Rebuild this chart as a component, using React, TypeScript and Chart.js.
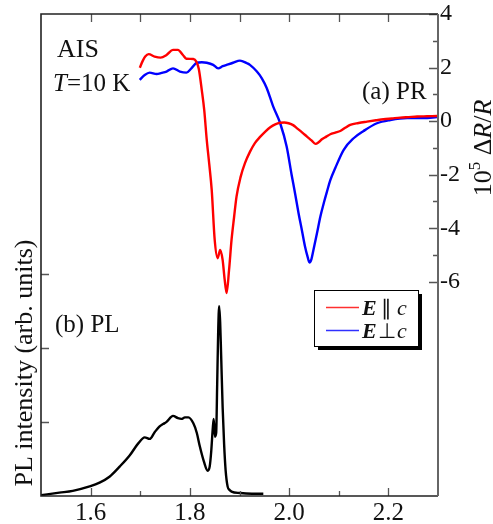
import { useEffect, useRef } from 'react';
import { Chart, registerables } from 'chart.js';

Chart.register(...registerables);

// PR spectrum, E parallel c (red), values in 10^5 ΔR/R
const prParE = [1.699, 1.705, 1.710, 1.717, 1.729, 1.741, 1.753, 1.766, 1.776, 1.786, 1.793, 1.807, 1.813, 1.818, 1.824, 1.829, 1.834, 1.839, 1.844, 1.850, 1.856, 1.861, 1.866, 1.870, 1.874, 1.879, 1.884, 1.889, 1.894, 1.902, 1.911, 1.921, 1.931, 1.941, 1.952, 1.962, 1.972, 1.982, 1.990, 1.999, 2.008, 2.016, 2.026, 2.036, 2.045, 2.053, 2.060, 2.066, 2.075, 2.083, 2.093, 2.103, 2.113, 2.123, 2.140, 2.157, 2.175, 2.190, 2.207, 2.224, 2.241, 2.258, 2.278, 2.298];
const prParV = [1.99, 2.25, 2.41, 2.50, 2.41, 2.37, 2.47, 2.66, 2.66, 2.47, 2.33, 2.32, 2.22, 1.95, 1.16, 0.40, -0.70, -1.60, -2.57, -4.43, -5.12, -4.81, -5.18, -5.90, -6.42, -5.55, -4.43, -3.60, -2.82, -2.10, -1.57, -1.15, -0.82, -0.60, -0.39, -0.23, -0.12, -0.06, -0.05, -0.08, -0.15, -0.27, -0.42, -0.58, -0.72, -0.85, -0.78, -0.68, -0.58, -0.49, -0.43, -0.37, -0.25, -0.14, -0.07, -0.02, 0.03, 0.07, 0.10, 0.13, 0.15, 0.17, 0.18, 0.19];

// PR spectrum, E perpendicular c (blue)
const prPerpE = [1.699, 1.709, 1.719, 1.733, 1.743, 1.753, 1.766, 1.780, 1.793, 1.803, 1.814, 1.824, 1.834, 1.847, 1.857, 1.866, 1.874, 1.887, 1.901, 1.915, 1.921, 1.935, 1.945, 1.955, 1.968, 1.982, 1.995, 2.005, 2.012, 2.019, 2.026, 2.032, 2.037, 2.041, 2.045, 2.049, 2.056, 2.063, 2.070, 2.076, 2.083, 2.093, 2.110, 2.130, 2.150, 2.177, 2.204, 2.238, 2.271, 2.298];
const prPerpV = [1.54, 1.72, 1.81, 1.76, 1.80, 1.85, 1.97, 1.85, 1.81, 1.97, 2.18, 2.20, 2.18, 2.10, 1.97, 2.05, 2.10, 2.18, 2.26, 2.16, 2.10, 1.85, 1.60, 1.23, 0.54, -0.08, -0.95, -2.00, -2.70, -3.44, -4.10, -4.68, -5.05, -5.28, -5.15, -4.81, -4.20, -3.56, -3.05, -2.65, -2.20, -1.75, -1.07, -0.64, -0.37, -0.08, 0.04, 0.11, 0.11, 0.15];

// PL spectrum (black), arbitrary units
const plE = [1.500, 1.537, 1.564, 1.598, 1.618, 1.638, 1.659, 1.679, 1.696, 1.709, 1.719, 1.729, 1.739, 1.746, 1.753, 1.766, 1.776, 1.783, 1.790, 1.797, 1.807, 1.814, 1.820, 1.828, 1.836, 1.840, 1.843, 1.846, 1.848, 1.8505, 1.853, 1.855, 1.857, 1.859, 1.861, 1.863, 1.866, 1.869, 1.872, 1.876, 1.880, 1.884, 1.901, 1.925, 1.948];
const plI = [0.01, 0.045, 0.07, 0.13, 0.18, 0.26, 0.40, 0.55, 0.71, 0.79, 0.77, 0.86, 0.94, 0.97, 1.00, 1.08, 1.05, 1.04, 1.06, 1.06, 0.98, 0.85, 0.67, 0.47, 0.34, 0.40, 0.60, 0.90, 1.04, 0.80, 0.85, 1.50, 2.20, 2.56, 2.35, 1.90, 1.20, 0.70, 0.35, 0.13, 0.08, 0.06, 0.04, 0.03, 0.03];

const xTicks = [1.6, 1.7, 1.8, 1.9, 2.0, 2.1, 2.2];
const prTicks = [-6, -5, -4, -3, -2, -1, 0, 1, 2, 3, 4];
const plTicks = [1, 2, 3];

const SERIF = '"Liberation Serif", serif';

type Run = [string, string, number?];

function runsWidth(ctx: CanvasRenderingContext2D, runs: Run[]) {
  let w = 0;
  for (const [t, f] of runs) {
    ctx.font = f;
    w += ctx.measureText(t).width;
  }
  return w;
}

function drawRuns(ctx: CanvasRenderingContext2D, runs: Run[], x: number, y: number) {
  let cx = x;
  for (const [t, f, dy] of runs) {
    ctx.font = f;
    ctx.fillText(t, cx, y + (dy || 0));
    cx += ctx.measureText(t).width;
  }
  return cx;
}

export default function App() {
  const ref = useRef<HTMLCanvasElement>(null);

  useEffect(() => {
    const canvas = ref.current!;
    const toXY = (xs: number[], ys: number[]) => xs.map((x, i) => ({ x, y: ys[i] }));

    const decor = {
      id: 'decor',
      afterDatasetsDraw(chart: any) {
        const { ctx, chartArea: a, scales } = chart;
        const sx = scales.x, sl = scales.y, sr = scales.y2;
        ctx.save();
        ctx.lineCap = 'butt';
        // ticks
        ctx.strokeStyle = '#555';
        ctx.lineWidth = 1.3;
        ctx.beginPath();
        for (const v of xTicks) {
          const px = Math.round(sx.getPixelForValue(v)) + 0.5;
          const major = Math.round(v * 10) % 2 === 0;
          ctx.moveTo(px, a.bottom);
          ctx.lineTo(px, a.bottom - (major ? 8 : 5));
          ctx.moveTo(px, a.top);
          ctx.lineTo(px, a.top + 8);
        }
        for (const v of plTicks) {
          const py = Math.round(sl.getPixelForValue(v)) + 0.5;
          ctx.moveTo(a.left, py);
          ctx.lineTo(a.left + 8, py);
        }
        for (const v of prTicks) {
          const py = Math.round(sr.getPixelForValue(v)) + 0.5;
          const major = v % 2 === 0;
          ctx.moveTo(a.right, py);
          ctx.lineTo(a.right - (major ? 9 : 5), py);
        }
        ctx.stroke();
        // frame
        ctx.strokeStyle = '#222';
        ctx.lineWidth = 1.6;
        ctx.beginPath();
        ctx.moveTo(a.right, a.top);
        ctx.lineTo(a.left, a.top);
        ctx.lineTo(a.left, a.bottom);
        ctx.lineTo(a.right, a.bottom);
        ctx.stroke();
        ctx.strokeStyle = '#666';
        ctx.lineWidth = 2;
        ctx.beginPath();
        ctx.moveTo(a.right, a.top);
        ctx.lineTo(a.right, a.bottom);
        ctx.stroke();

        // texts
        ctx.fillStyle = '#111';
        ctx.textBaseline = 'alphabetic';
        ctx.textAlign = 'left';
        drawRuns(ctx, [['AIS', `26px ${SERIF}`]], 57, 57);
        drawRuns(ctx, [['T', `italic 25px ${SERIF}`], ['=10 K', `25px ${SERIF}`]], 53, 91);
        drawRuns(ctx, [['(a) PR', `25px ${SERIF}`]], 362, 99);
        drawRuns(ctx, [['(b) PL', `25px ${SERIF}`]], 55, 332);

        // left axis title
        ctx.save();
        ctx.translate(32, 363);
        ctx.rotate(-Math.PI / 2);
        ctx.textAlign = 'center';
        ctx.font = `26px ${SERIF}`;
        ctx.fillText('PL intensity (arb. units)', 0, 0);
        ctx.restore();

        // right axis title
        ctx.save();
        ctx.translate(491, 148);
        ctx.rotate(-Math.PI / 2);
        const rt: Run[] = [
          ['10', `26px ${SERIF}`],
          ['5', `17px ${SERIF}`, -11],
          [' \u0394', `26px ${SERIF}`],
          ['R', `italic 26px ${SERIF}`],
          ['/', `26px ${SERIF}`],
          ['R', `italic 26px ${SERIF}`],
        ];
        const w = runsWidth(ctx, rt);
        drawRuns(ctx, rt, -w / 2, 0);
        ctx.restore();

        // legend
        const lx = 314, ly = 290, lw = 104, lh = 56;
        ctx.fillStyle = '#000';
        ctx.fillRect(lx + 4, ly + 4, lw, lh);
        ctx.fillStyle = '#fff';
        ctx.fillRect(lx, ly, lw, lh);
        ctx.strokeStyle = '#000';
        ctx.lineWidth = 1;
        ctx.strokeRect(lx + 0.5, ly + 0.5, lw, lh);
        const rows: [string, string][] = [['#ff3030', '\u2225'], ['#3030ff', '\u22A5']];
        rows.forEach(([col, sym], i) => {
          const y = 307 + i * 23;
          ctx.strokeStyle = col;
          ctx.lineWidth = 1.5;
          ctx.beginPath();
          ctx.moveTo(326, y + 0.5);
          ctx.lineTo(359, y + 0.5);
          ctx.stroke();
          ctx.fillStyle = '#111';
          ctx.textBaseline = 'middle';
          ctx.textAlign = 'left';
          ctx.font = `italic bold 22px ${SERIF}`;
          ctx.fillText('E', 362, y + 2);
          ctx.textAlign = 'center';
          ctx.font = `21px ${SERIF}`;
          ctx.fillText(sym, 386.5, y + 2);
          ctx.textAlign = 'left';
          ctx.font = `italic 22px ${SERIF}`;
          ctx.fillText('c', 397, y + 2);
        });
        ctx.restore();
      },
    };

    const chart = new Chart(canvas, {
      type: 'scatter',
      data: {
        datasets: [
          {
            label: 'PL',
            data: toXY(plE, plI),
            yAxisID: 'y',
            borderColor: '#000',
            borderWidth: 2.4,
            showLine: true,
            pointRadius: 0,
            cubicInterpolationMode: 'monotone',
          },
          {
            label: 'E ∥ c',
            data: toXY(prParE, prParV),
            yAxisID: 'y2',
            borderColor: '#ff0000',
            borderWidth: 2.4,
            showLine: true,
            pointRadius: 0,
            cubicInterpolationMode: 'monotone',
          },
          {
            label: 'E ⊥ c',
            data: toXY(prPerpE, prPerpV),
            yAxisID: 'y2',
            borderColor: '#0000ff',
            borderWidth: 2.4,
            showLine: true,
            pointRadius: 0,
            cubicInterpolationMode: 'monotone',
          },
        ],
      },
      options: {
        responsive: false,
        animation: false,
        devicePixelRatio: 1,
        layout: { padding: { top: 14, left: 0, right: 0, bottom: 0 } },
        plugins: { legend: { display: false }, tooltip: { enabled: false } },
        scales: {
          x: {
            type: 'linear',
            position: 'bottom',
            min: 1.5,
            max: 2.3,
            grid: { display: false, drawTicks: false },
            border: { display: false },
            ticks: {
              stepSize: 0.1,
              autoSkip: false,
              maxRotation: 0,
              padding: 2,
              color: '#111',
              font: { family: SERIF, size: 25 },
              callback: (v: any) => {
                const n = Math.round(Number(v) * 10);
                return n % 2 === 0 && n >= 16 && n <= 22 ? (n / 10).toFixed(1) : '';
              },
            },
            afterFit: (s: any) => {
              s.height = 28;
              s.paddingLeft = 0;
              s.paddingRight = 0;
            },
          },
          y: {
            type: 'linear',
            position: 'left',
            min: 0,
            max: 6.5,
            grid: { display: false, drawTicks: false },
            border: { display: false },
            ticks: { display: false },
            afterFit: (s: any) => {
              s.width = 41;
              s.paddingTop = 0;
              s.paddingBottom = 0;
            },
          },
          y2: {
            type: 'linear',
            position: 'right',
            min: -14,
            max: 4,
            grid: { display: false, drawTicks: false },
            border: { display: false },
            ticks: {
              stepSize: 1,
              autoSkip: false,
              padding: 2,
              color: '#111',
              font: { family: SERIF, size: 24 },
              callback: (v: any) => {
                const n = Math.round(Number(v));
                return n % 2 === 0 && n >= -6 && n <= 4 ? String(n) : '';
              },
            },
            afterFit: (s: any) => {
              s.width = 55;
              s.paddingTop = 0;
              s.paddingBottom = 0;
            },
          },
        },
      },
      plugins: [decor],
    } as any);

    return () => chart.destroy();
  }, []);

  return (
    <div style={{ position: 'absolute', left: 0, top: 0, width: 493, height: 524, background: '#fff' }}>
      <canvas ref={ref} width={493} height={524} style={{ display: 'block' }} />
    </div>
  );
}
